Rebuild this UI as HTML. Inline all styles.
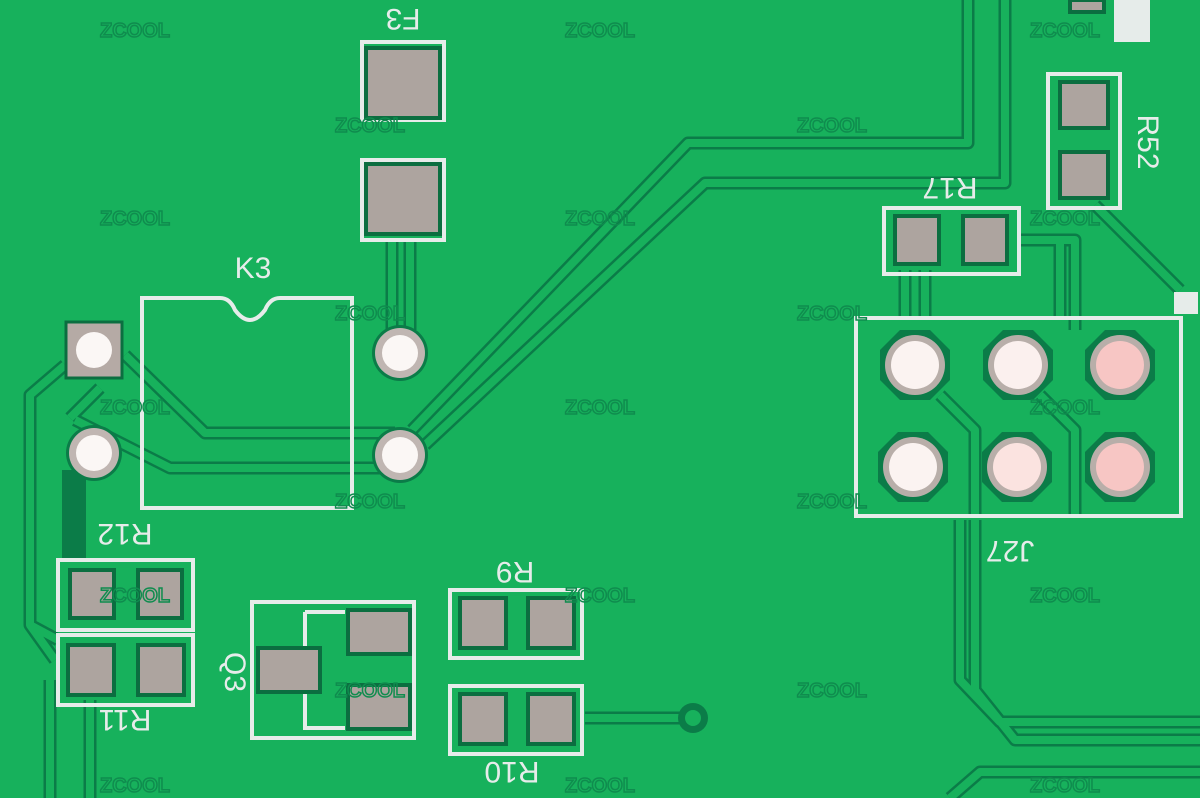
<!DOCTYPE html>
<html><head><meta charset="utf-8"><style>
html,body{margin:0;padding:0;background:#17b15c;}
svg{display:block}
.t{fill:none;stroke:#0b7c48;stroke-width:13;stroke-linejoin:round}
.ti{fill:none;stroke:#17b15c;stroke-width:8;stroke-linejoin:round}
.s{fill:none;stroke:#e6ecea;stroke-width:4}
.pad{fill:#ada49f;stroke:#0b6e40;stroke-width:4}
.lbl{font-family:"Liberation Sans",sans-serif;font-size:30px;fill:#e6ecea}
.wm{font-family:"Liberation Sans",sans-serif;font-size:20px;font-weight:bold;fill:none;stroke:#0f8c4e;stroke-width:1.5}
</style></head><body>
<svg width="1200" height="798" viewBox="0 0 1200 798" xmlns="http://www.w3.org/2000/svg">
<rect width="1200" height="798" fill="#17b15c"/>
<g id="tr">
<path d="M968,0 V143 H688 L412,430 M1005,0 V183 H705 L425,445 M125,355 L205,433 H395 M100,388 L70,418 M75,420 L170,468 H380 M65,365 L30,395 V625 L55,660 M50,680 V798 M90,700 V798 M58,640 L30,625 M585,718 H690 M1020,240 H1075 V330 M1095,205 L1180,290 M905,270 V320 M925,270 V320 M960,520 V680 L1000,722 H1200 M975,520 V690 L1015,740 H1200 M950,798 L980,772 H1200 M392,240 V330 M410,240 V330 M940,395 L975,430 V515 M1040,395 L1075,430 V515 M1060,240 V320"/>
</g>
<use href="#tr" class="t"/>
<use href="#tr" class="ti" style="fill:none;stroke:#17b15c;stroke-width:8"/>
<style>#tr{fill:none}</style>
<rect x="62" y="470" width="24" height="90" fill="#0b7c48"/>
<!-- F3 -->
<rect x="362" y="42" width="82" height="78" class="s"/><rect x="362" y="160" width="82" height="80" class="s"/>
<rect x="366" y="48" width="74" height="70" class="pad"/><rect x="366" y="164" width="74" height="70" class="pad"/>
<text x="403" y="35" class="lbl" text-anchor="middle" transform="rotate(180 403 22)">F3</text>
<!-- K3 -->
<path d="M142,298 H220 Q230,298 235,310 Q250,330 265,310 Q270,298 280,298 H352 V508 H142 Z" class="s"/>
<text x="253" y="278" class="lbl" text-anchor="middle">K3</text>
<!-- through holes -->
<rect x="66" y="322" width="56" height="56" fill="#b5aaa5" stroke="#0b6e40" stroke-width="3"/>
<circle cx="94" cy="350" r="18" fill="#fbf7f5"/>
<circle cx="94" cy="453" r="28" fill="#0b7c48"/><circle cx="94" cy="453" r="25" fill="#c0b6b2"/><circle cx="94" cy="453" r="18" fill="#fbf7f5"/>
<circle cx="400" cy="353" r="28" fill="#0b7c48"/><circle cx="400" cy="353" r="25" fill="#c0b6b2"/><circle cx="400" cy="353" r="18" fill="#fbf7f5"/>
<circle cx="400" cy="455" r="28" fill="#0b7c48"/><circle cx="400" cy="455" r="25" fill="#c0b6b2"/><circle cx="400" cy="455" r="18" fill="#fbf7f5"/>
<circle cx="693" cy="718" r="15" fill="#0b7c48"/><circle cx="693" cy="718" r="8" fill="#17b15c"/>
<!-- R12 R11 -->
<rect x="58" y="560" width="135" height="70" class="s"/><rect x="58" y="635" width="135" height="70" class="s"/>
<rect x="70" y="570" width="44" height="48" class="pad"/><rect x="138" y="570" width="44" height="48" class="pad"/>
<rect x="68" y="645" width="46" height="50" class="pad"/><rect x="138" y="645" width="46" height="50" class="pad"/>
<text x="125" y="540" class="lbl" text-anchor="middle" transform="rotate(180 125 532)">R12</text>
<text x="125" y="730" class="lbl" text-anchor="middle" transform="rotate(180 125 720)">R11</text>
<text x="225" y="672" class="lbl" text-anchor="middle" transform="rotate(90 225 672)">Q3</text>
<!-- Q3 -->
<rect x="252" y="602" width="162" height="136" class="s"/>
<path d="M305,612 V728 H345 M305,612 H345" class="s"/>
<rect x="258" y="648" width="62" height="44" class="pad"/>
<rect x="348" y="610" width="62" height="44" class="pad"/><rect x="348" y="685" width="62" height="44" class="pad"/>
<!-- R9 R10 -->
<rect x="450" y="590" width="132" height="68" class="s"/><rect x="450" y="686" width="132" height="68" class="s"/>
<rect x="460" y="598" width="46" height="50" class="pad"/><rect x="528" y="598" width="46" height="50" class="pad"/>
<rect x="460" y="694" width="46" height="50" class="pad"/><rect x="528" y="694" width="46" height="50" class="pad"/>
<text x="515" y="582" class="lbl" text-anchor="middle" transform="rotate(180 515 572)">R9</text>
<text x="512" y="782" class="lbl" text-anchor="middle" transform="rotate(180 512 772)">R10</text>
<!-- R17 -->
<rect x="884" y="208" width="135" height="66" class="s"/>
<rect x="895" y="216" width="44" height="48" class="pad"/><rect x="963" y="216" width="44" height="48" class="pad"/>
<text x="950" y="198" class="lbl" text-anchor="middle" transform="rotate(180 950 188)">R17</text>
<!-- R52 -->
<rect x="1048" y="74" width="72" height="134" class="s"/>
<rect x="1060" y="82" width="48" height="46" class="pad"/><rect x="1060" y="152" width="48" height="46" class="pad"/>
<text x="1138" y="142" class="lbl" text-anchor="middle" transform="rotate(90 1138 142)">R52</text>
<rect x="1070" y="0" width="34" height="12" class="pad"/>
<rect x="1114" y="0" width="36" height="42" fill="#e6ecea"/>
<!-- J27 -->
<rect x="856" y="318" width="325" height="198" class="s"/>
<rect x="1174" y="292" width="24" height="22" fill="#e6ecea"/>
<g>
<polygon points="900,330 930,330 950,350 950,380 930,400 900,400 880,380 880,350" fill="#0b7c48"/>
<circle cx="915" cy="365" r="30" fill="#b8aea9"/><circle cx="915" cy="365" r="24" fill="#fbf3f1"/>
<polygon points="1003,330 1033,330 1053,350 1053,380 1033,400 1003,400 983,380 983,350" fill="#0b7c48"/>
<circle cx="1018" cy="365" r="30" fill="#b8aea9"/><circle cx="1018" cy="365" r="24" fill="#fbf0ee"/>
<polygon points="1105,330 1135,330 1155,350 1155,380 1135,400 1105,400 1085,380 1085,350" fill="#0b7c48"/>
<circle cx="1120" cy="365" r="30" fill="#b8aea9"/><circle cx="1120" cy="365" r="24" fill="#f7c6c4"/>
<polygon points="898,432 928,432 948,452 948,482 928,502 898,502 878,482 878,452" fill="#0b7c48"/>
<circle cx="913" cy="467" r="30" fill="#b8aea9"/><circle cx="913" cy="467" r="24" fill="#fbf3f1"/>
<polygon points="1002,432 1032,432 1052,452 1052,482 1032,502 1002,502 982,482 982,452" fill="#0b7c48"/>
<circle cx="1017" cy="467" r="30" fill="#b8aea9"/><circle cx="1017" cy="467" r="24" fill="#fbe3e0"/>
<polygon points="1105,432 1135,432 1155,452 1155,482 1135,502 1105,502 1085,482 1085,452" fill="#0b7c48"/>
<circle cx="1120" cy="467" r="30" fill="#b8aea9"/><circle cx="1120" cy="467" r="24" fill="#f7c6c4"/>
</g>
<text x="1010" y="565" class="lbl" text-anchor="middle" transform="rotate(180 1010 553)">J27</text>
<!-- watermarks -->
<g class="wm">
<text x="100" y="37">ZCOOL</text><text x="565" y="37">ZCOOL</text><text x="1030" y="37">ZCOOL</text>
<text x="335" y="132">ZCOOL</text><text x="797" y="132">ZCOOL</text>
<text x="100" y="225">ZCOOL</text><text x="565" y="225">ZCOOL</text><text x="1030" y="225">ZCOOL</text>
<text x="335" y="320">ZCOOL</text><text x="797" y="320">ZCOOL</text>
<text x="100" y="414">ZCOOL</text><text x="565" y="414">ZCOOL</text><text x="1030" y="414">ZCOOL</text>
<text x="335" y="508">ZCOOL</text><text x="797" y="508">ZCOOL</text>
<text x="100" y="602">ZCOOL</text><text x="565" y="602">ZCOOL</text><text x="1030" y="602">ZCOOL</text>
<text x="335" y="697">ZCOOL</text><text x="797" y="697">ZCOOL</text>
<text x="100" y="792">ZCOOL</text><text x="565" y="792">ZCOOL</text><text x="1030" y="792">ZCOOL</text>
</g>
</svg>
</body></html>
